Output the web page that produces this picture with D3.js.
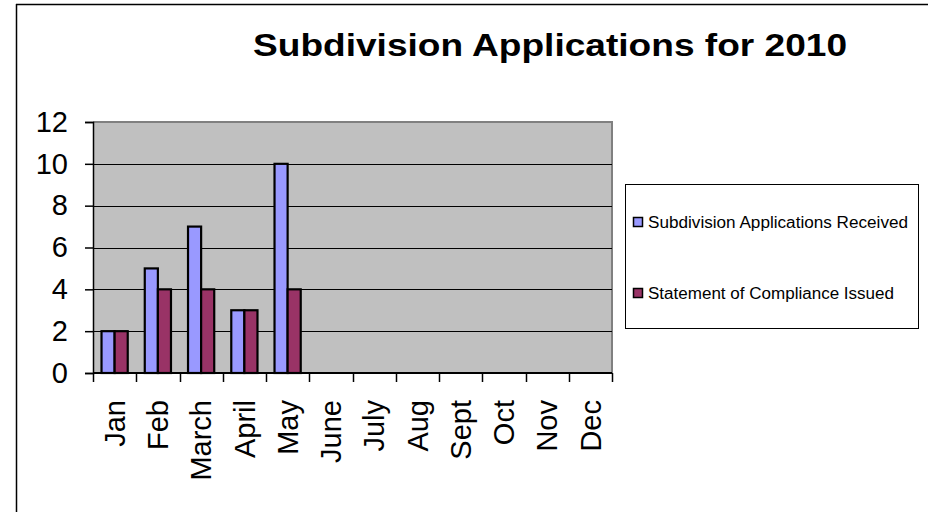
<!DOCTYPE html>
<html><head><meta charset="utf-8">
<script src="https://cdn.jsdelivr.net/npm/d3@7"></script>
<style>html,body{margin:0;padding:0;background:#fff;}svg{display:block;font-family:"Liberation Sans",Arial,sans-serif;}</style>
</head><body>
<svg id="chart" width="937" height="512"></svg>
<script>
const months = ["Jan","Feb","March","April","May","June","July","Aug","Sept","Oct","Nov","Dec"];
const received = [2,5,7,3,10,null,null,null,null,null,null,null];
const compliance = [2,4,4,3,4,null,null,null,null,null,null,null];
const seriesNames = ["Subdivision Applications Received","Statement of Compliance Issued"];
const seriesColors = ["#9999ff","#993366"];
const yTicks = [0,2,4,6,8,10,12];
const titleText = "Subdivision Applications for 2010";

const svg = d3.select("#chart");
const L = 93, R = 612, T = 122, B = 373;

// outer border (top and left only visible)
svg.append("line").attr("x1",16).attr("x2",928).attr("y1",4.5).attr("y2",4.5).attr("stroke","#000").attr("stroke-width",1.5);
svg.append("line").attr("x1",16.5).attr("x2",16.5).attr("y1",4).attr("y2",512).attr("stroke","#000").attr("stroke-width",1.5);

svg.append("text").attr("x",253).attr("y",56).attr("font-weight","bold").attr("font-size",32)
  .attr("textLength",594).attr("lengthAdjust","spacingAndGlyphs").text(titleText);

const x = d3.scaleBand().domain(months).range([L,R]).paddingInner(0).paddingOuter(0);
const y = d3.scaleLinear().domain([0,12]).range([B,T]);
const bw = x.bandwidth()/3.3;
const x1 = d3.scaleBand().domain([0,1]).range([0, 2*bw]);

// plot area
svg.append("rect").attr("x",L).attr("y",T).attr("width",R-L).attr("height",B-T).attr("fill","#c0c0c0");
svg.append("path").attr("d",`M${L},${T}H${R}V${B}`).attr("fill","none").attr("stroke","#808080").attr("stroke-width",2);

// gridlines
svg.append("g").selectAll("line").data(yTicks.filter(d=>d>0 && d<12)).join("line")
  .attr("x1",L).attr("x2",R).attr("y1",d=>Math.round(y(d))+0.5).attr("y2",d=>Math.round(y(d))+0.5)
  .attr("stroke","#000").attr("stroke-width",1);

// bars
const series = [received, compliance];
series.forEach((vals, si) => {
  svg.append("g").selectAll("rect").data(months.map((m,i)=>({m, v: vals[i]})).filter(d=>d.v!=null)).join("rect")
    .attr("x", d => x(d.m) + (x.bandwidth()-2*bw)/2 + x1(si))
    .attr("y", d => y(d.v))
    .attr("width", bw)
    .attr("height", d => B - y(d.v))
    .attr("fill", seriesColors[si])
    .attr("stroke","#000").attr("stroke-width",2.2);
});

// y axis
const yAxis = d3.axisLeft(y).tickValues(yTicks).tickSize(8).tickPadding(17).tickFormat(d3.format("d"));
const gy = svg.append("g").attr("transform",`translate(${L},0)`).call(yAxis);
gy.select(".domain").attr("stroke","#000").attr("stroke-width",1.5);
gy.selectAll(".tick line").attr("stroke","#000").attr("stroke-width",1.5);
gy.selectAll(".tick text").attr("font-size",29).attr("fill","#000").attr("font-family","Liberation Sans, Arial, sans-serif");

// x axis
const xTickPos = d3.range(months.length+1).map(i => L + i*x.bandwidth());
svg.append("line").attr("x1",L).attr("x2",R).attr("y1",B).attr("y2",B).attr("stroke","#000").attr("stroke-width",2);
svg.append("g").selectAll("line").data(xTickPos).join("line")
  .attr("x1",d=>Math.round(d)+0.5).attr("x2",d=>Math.round(d)+0.5).attr("y1",B).attr("y2",B+9)
  .attr("stroke","#000").attr("stroke-width",1.5);
svg.append("g").selectAll("text").data(months).join("text")
  .attr("transform", d => `translate(${x(d)+x.bandwidth()/2},400) rotate(-90)`)
  .attr("text-anchor","end").attr("dy","0.35em").attr("font-size",29).attr("fill","#000")
  .text(d=>d);

// legend
svg.append("rect").attr("x",625.5).attr("y",184.5).attr("width",293).attr("height",144).attr("fill","#fff").attr("stroke","#000").attr("stroke-width",1);
const legY = [222, 293];
const legW = [260, 246];
seriesNames.forEach((n,i) => {
  svg.append("rect").attr("x",633.5).attr("y",legY[i]-4.5).attr("width",9).attr("height",9)
    .attr("fill",seriesColors[i]).attr("stroke","#000").attr("stroke-width",1.5);
  svg.append("text").attr("x",648).attr("y",legY[i]+6).attr("font-size",16)
    .attr("textLength",legW[i]).attr("lengthAdjust","spacingAndGlyphs").text(n);
});
</script>
</body></html>
